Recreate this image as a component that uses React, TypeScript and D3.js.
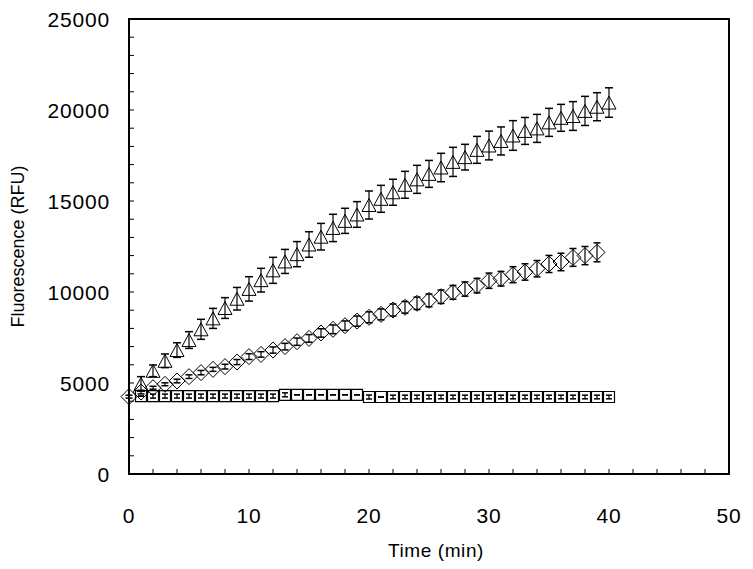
import React from "react";
import * as d3 from "d3";

// ---- data ----
const triTime = d3.range(1, 41);
const triValues = [4950, 5670, 6220, 6810, 7360, 7950, 8550, 9120, 9630, 10170,
  10650, 11190, 11680, 12080, 12610, 13040, 13520, 13910, 14260, 14780,
  15120, 15480, 15890, 16190, 16490, 16840, 17150, 17410, 17810, 18050,
  18300, 18600, 18850, 18990, 19320, 19570, 19670, 19950, 20180, 20410];
const triErrors = [400, 320, 375, 400, 460, 550, 550, 570, 620, 670,
  650, 715, 660, 690, 700, 730, 750, 690, 705, 770,
  740, 715, 740, 770, 740, 780, 800, 705, 740, 790,
  770, 815, 740, 770, 770, 740, 790, 800, 770, 810];

const diaTime = d3.range(0, 40);
const diaValues = [4250, 4500, 4740, 4930, 5110, 5350, 5570, 5750, 5900, 6150,
  6450, 6570, 6810, 7000, 7270, 7450, 7750, 7950, 8150, 8400,
  8610, 8770, 9010, 9160, 9380, 9540, 9740, 9980, 10160, 10350,
  10620, 10730, 10950, 11100, 11280, 11540, 11650, 11900, 12000, 12180];
const diaErrors = [80, 100, 80, 80, 100, 100, 120, 110, 130, 140,
  160, 150, 170, 180, 200, 210, 230, 240, 260, 280,
  300, 300, 330, 320, 340, 350, 370, 380, 390, 400,
  420, 400, 440, 450, 450, 470, 480, 490, 500, 520];

const sqTime = d3.range(1, 41);
const sqValues = [4280, 4280, 4280, 4280, 4280, 4280, 4280, 4280, 4280, 4280,
  4280, 4280, 4350, 4350, 4350, 4350, 4350, 4350, 4350, 4230,
  4230, 4230, 4230, 4230, 4230, 4230, 4230, 4230, 4230, 4230,
  4230, 4230, 4230, 4230, 4230, 4230, 4230, 4230, 4230, 4230];
const sqErrors = [0, 110, 110, 110, 110, 110, 110, 110, 110, 110,
  110, 110, 110, 0, 0, 0, 0, 0, 0, 110,
  0, 100, 100, 100, 100, 100, 100, 100, 100, 100,
  100, 100, 100, 100, 100, 100, 100, 100, 100, 100];

const xTicks = [0, 10, 20, 30, 40, 50];
const yTicks = [0, 5000, 10000, 15000, 20000, 25000];
const xTitle = "Time (min)";
const yTitle = "Fluorescence (RFU)";

const W = 753, H = 569;
const M = { left: 129, right: 729, top: 19, bottom: 474 };

export default function App() {
  const x = d3.scaleLinear().domain([0, 50]).range([M.left, M.right]);
  const y = d3.scaleLinear().domain([0, 25000]).range([M.bottom, M.top]);

  const xMinor = d3.range(2, 50, 2);
  const yMinor = d3.range(1000, 25000, 1000);

  const triPath = (cx: number, cy: number) => {
    const h = 6.5, w = 7;
    return `M${cx},${cy - h}L${cx + w},${cy + h}L${cx - w},${cy + h}Z`;
  };
  const diaPath = (cx: number, cy: number) => {
    const r = 8;
    return `M${cx},${cy - r}L${cx + r},${cy}L${cx},${cy + r}L${cx - r},${cy}Z`;
  };
  const sqPath = (cx: number, cy: number) => {
    const r = 5.5;
    return `M${cx - r},${cy - r}H${cx + r}V${cy + r}H${cx - r}Z`;
  };

  const errBar = (key: string, t: number, v: number, e: number, cap: number) => {
    const cx = x(t);
    const y1 = y(v + e), y2 = y(v - e);
    return (
      <g key={key}>
        <line x1={cx} x2={cx} y1={y1} y2={y2} stroke="#000" strokeWidth={1.2} />
        <line x1={cx - cap} x2={cx + cap} y1={y1} y2={y1} stroke="#000" strokeWidth={1.5} />
        <line x1={cx - cap} x2={cx + cap} y1={y2} y2={y2} stroke="#000" strokeWidth={1.5} />
      </g>
    );
  };

  const font = "'Liberation Sans', Arial, sans-serif";

  return (
    <svg width={W} height={H} style={{ position: "absolute", left: 0, top: 0, background: "#fff" }}
      fontFamily={font}>
      <rect x={0} y={0} width={W} height={H} fill="#fff" />
      {yMinor.map((v) => (
        <line key={"ym" + v} x1={M.left} x2={M.left + 5} y1={y(v)} y2={y(v)} stroke="#000" strokeWidth={1} />
      ))}
      {xMinor.map((t) => (
        <line key={"xm" + t} x1={x(t)} x2={x(t)} y1={M.bottom} y2={M.bottom - 5} stroke="#000" strokeWidth={1} />
      ))}
      <g>
        {sqTime.map((t, i) => (
          <path key={"sq" + i} d={sqPath(x(t), y(sqValues[i]))} fill="none" stroke="#000" strokeWidth={1.2} />
        ))}
        {sqTime.map((t, i) => errBar("sqe" + i, t, sqValues[i], sqErrors[i], 3))}
      </g>
      <g>
        {diaTime.map((t, i) => (
          <path key={"di" + i} d={diaPath(x(t), y(diaValues[i]))} fill="none" stroke="#000" strokeWidth={1} />
        ))}
        {diaTime.map((t, i) => errBar("die" + i, t, diaValues[i], diaErrors[i], 3.5))}
      </g>
      <g>
        {triTime.map((t, i) => (
          <path key={"tr" + i} d={triPath(x(t), y(triValues[i]))} fill="none" stroke="#000" strokeWidth={1} />
        ))}
        {triTime.map((t, i) => errBar("tre" + i, t, triValues[i], triErrors[i], 4))}
      </g>
      <rect x={M.left} y={M.top} width={M.right - M.left} height={M.bottom - M.top}
        fill="none" stroke="#000" strokeWidth={2} />
      {yTicks.map((v) => (
        <text key={"yl" + v} x={110} y={y(v) + 8} textAnchor="end" fontSize={21} letterSpacing={0.8} fill="#000">
          {v}
        </text>
      ))}
      {xTicks.map((t) => (
        <text key={"xl" + t} x={x(t)} y={523} textAnchor="middle" fontSize={21} letterSpacing={0.8} fill="#000">
          {t}
        </text>
      ))}
      <text x={436} y={557} textAnchor="middle" fontSize={19} letterSpacing={0.6} fill="#000">{xTitle}</text>
      <text transform={`translate(24, ${(M.top + M.bottom) / 2}) rotate(-90)`} textAnchor="middle"
        fontSize={18} fill="#000">{yTitle}</text>
    </svg>
  );
}
